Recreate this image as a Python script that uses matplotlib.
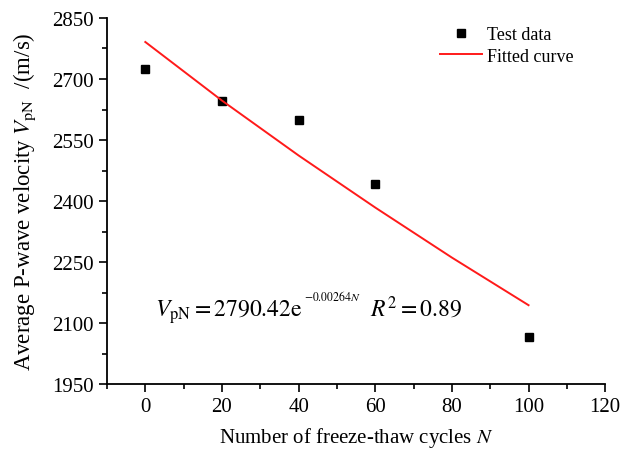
import numpy as np
import matplotlib.pyplot as plt
from matplotlib.ticker import MultipleLocator

plt.rcParams['font.family'] = ['Liberation Serif', 'DejaVu Serif']
plt.rcParams['mathtext.fontset'] = 'stix'

# test data
cycles = [0, 20, 40, 60, 100]
velocity = [2725, 2647, 2598, 2441, 2066]

# fitted curve, points
fit_n = [0, 20, 40, 60, 80, 100]
fit_v = [2791, 2647, 2512, 2384, 2261, 2144]

x_ticks = [0, 20, 40, 60, 80, 100, 120]
y_ticks = [1950, 2100, 2250, 2400, 2550, 2700, 2850]


def main():
    fig = plt.figure(figsize=(6.22, 4.52), dpi=100)
    ax = fig.add_axes([0.172, 0.148, 0.801, 0.81])

    ax.plot(cycles, velocity, 's', color='black', markersize=6, label='Test data')
    ax.plot(fit_n, fit_v, '-', color='#ff1a1a', lw=1.4, label='Fitted curve')

    ax.set_xlim(-10, 120)
    ax.set_ylim(1950, 2850)
    ax.set_xticks(x_ticks)
    ax.set_yticks(y_ticks)
    ax.xaxis.set_minor_locator(MultipleLocator(10))
    ax.yaxis.set_minor_locator(MultipleLocator(75))

    for s in ['top', 'right']:
        ax.spines[s].set_visible(False)
    for s in ['left', 'bottom']:
        ax.spines[s].set_linewidth(1.3)
    ax.tick_params(which='major', direction='out', length=6, width=1.2, labelsize=15)
    ax.tick_params(which='minor', direction='out', length=3.5, width=1.2)

    ax.set_xlabel('Number of freeze-thaw cycles $N$', fontsize=15, labelpad=6)
    ax.set_ylabel(r'Average P-wave velocity $V_{\rm pN}$  /(m/s)', fontsize=16.5, labelpad=10)

    # equation: main part, then a small exponent placed right after it
    eq = ax.text(2.6, 2117, r'$V_{\rm pN}=2790.42\mathrm{e}$', fontsize=17, va='baseline')
    fig.canvas.draw()
    bb = eq.get_window_extent()
    sup_y = ax.transData.transform((0, 2156))[1]
    ax.annotate(r'$-0.00264N$', xy=(bb.x1 + 1, sup_y), xycoords='figure pixels',
                fontsize=8.5, va='baseline', annotation_clip=False)
    ax.text(58.7, 2117, r'$R^2=0.89$', fontsize=17, va='baseline')

    ax.legend(loc='upper right', bbox_to_anchor=(0.97, 1.022), frameon=False,
              fontsize=13, handlelength=2.3, handletextpad=0.3, labelspacing=0.25)

    fig.savefig('out.png', dpi=100)


main()
